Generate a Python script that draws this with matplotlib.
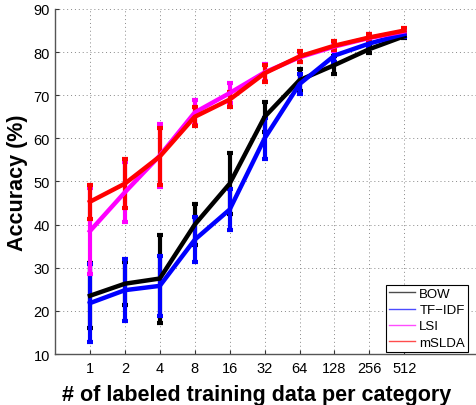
import matplotlib
matplotlib.use('Agg')
import matplotlib.pyplot as plt
from matplotlib.lines import Line2D

plt.rcParams['font.family'] = ['Liberation Sans', 'DejaVu Sans']

sizes = ['1', '2', '4', '8', '16', '32', '64', '128', '256', '512']
pos = list(range(1, len(sizes) + 1))

bow = [23.5, 26.3, 27.5, 40.0, 49.5, 65.0, 73.5, 77.0, 80.7, 83.7]
bow_err = [7.5, 5.0, 10.2, 4.8, 7.0, 3.5, 2.5, 2.0, 1.0, 0.5]
tfidf = [21.8, 24.8, 25.8, 36.5, 43.5, 60.0, 72.6, 79.2, 82.0, 84.2]
tfidf_err = [9.0, 7.2, 7.0, 5.2, 4.7, 4.7, 2.3, 1.5, 1.0, 0.6]
lsi = [38.5, 47.5, 56.0, 66.0, 70.5, 75.3, 78.8, 81.3, 83.3, 84.8]
lsi_err = [10.0, 7.0, 7.3, 3.0, 2.3, 2.0, 1.2, 1.0, 0.8, 0.6]
mslda = [45.3, 49.5, 55.8, 65.0, 69.0, 75.1, 79.0, 81.5, 83.4, 85.0]
mslda_err = [4.0, 5.7, 6.5, 2.2, 1.8, 2.0, 1.2, 1.0, 0.8, 0.6]

series = [('BOW', bow, bow_err, 'black'),
          ('TF\u2212IDF', tfidf, tfidf_err, 'blue'),
          ('LSI', lsi, lsi_err, 'magenta'),
          ('mSLDA', mslda, mslda_err, 'red')]

fig = plt.figure(figsize=(4.76, 4.06), dpi=100)
ax = fig.add_axes([0.1155, 0.1256, 0.8845, 0.8498])

for name, y, e, c in series:
    ax.errorbar(pos, y, yerr=e, color=c, lw=3.2, elinewidth=3,
                capsize=2.2, capthick=3)

ax.set_xlim(0, 12.05)
ax.set_ylim(10, 90)
ax.set_xticks(pos)
ax.set_xticklabels(sizes)
ax.set_yticks(range(10, 91, 10))
ax.tick_params(direction='in', length=3, labelsize=10.5, colors='#333333',
               labelcolor='black', width=0.8)
ax.tick_params(axis='x', pad=5)
ax.grid(True, linestyle=(0, (1, 3)), color='#888888', lw=0.7)

for s in ['top', 'right']:
    ax.spines[s].set_visible(False)
for s in ['left', 'bottom']:
    ax.spines[s].set_color('#555555')
    ax.spines[s].set_linewidth(1.0)

ax.set_ylabel('Accuracy (%)', fontsize=15.5, fontweight='bold', labelpad=4)
ax.set_xlabel('# of labeled training data per category', fontsize=15.5,
              fontweight='bold')
ax.xaxis.set_label_coords(0.48, -0.088)

handles = [Line2D([], [], color=c, lw=1, alpha=0.7) for _, _, _, c in series]
leg = ax.legend(handles, [s[0] for s in series], loc='lower right',
                bbox_to_anchor=(0.982, 0.006), fontsize=9.5, fancybox=False,
                edgecolor='black', framealpha=1, handlelength=2.0,
                handletextpad=0.3, borderpad=0.25, labelspacing=0.3,
                borderaxespad=0)
leg.get_frame().set_linewidth(0.8)

fig.savefig('out.png', dpi=100)
